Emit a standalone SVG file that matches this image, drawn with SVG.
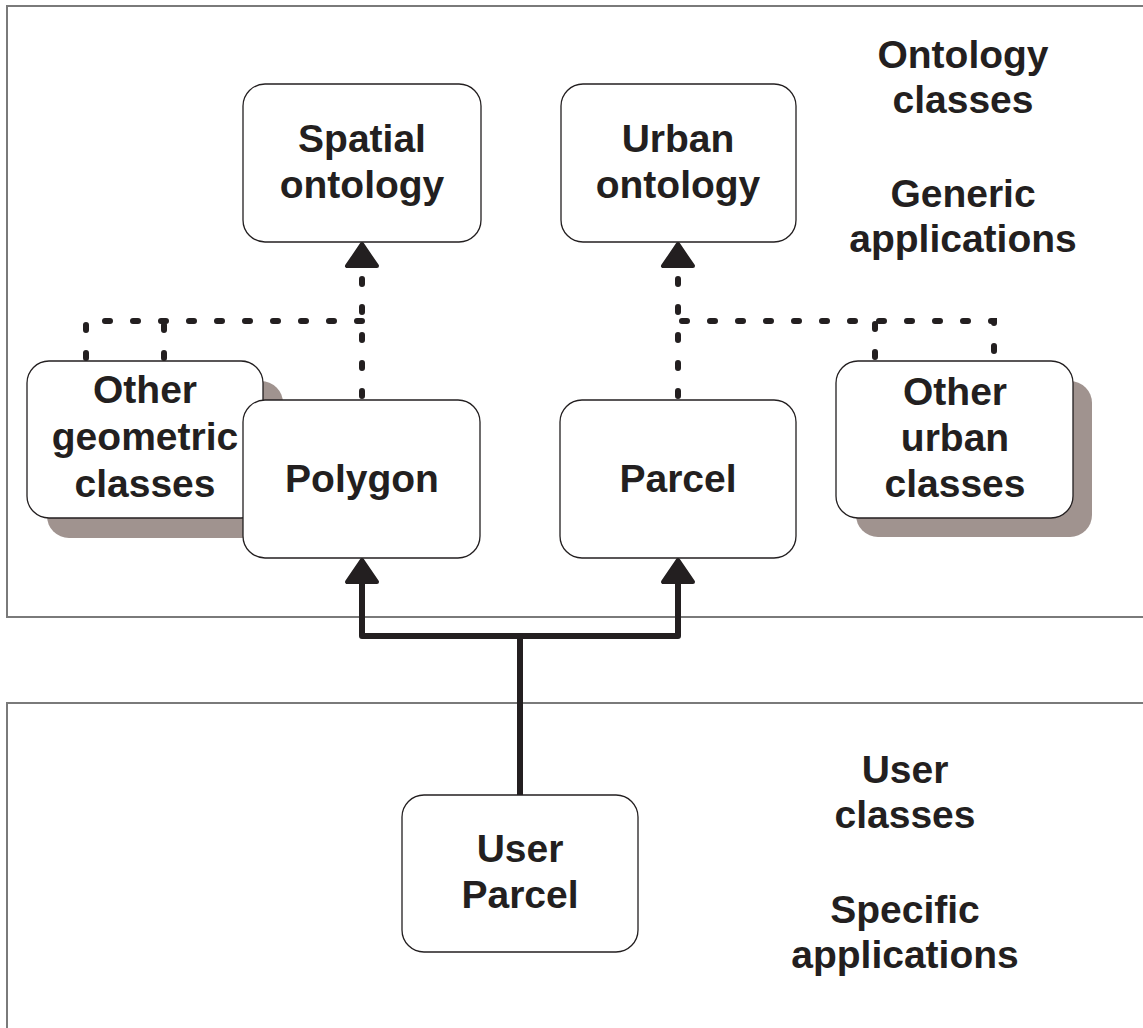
<svg xmlns="http://www.w3.org/2000/svg" width="1143" height="1028" viewBox="0 0 1143 1028">
<style>
.panel{fill:none;stroke:#7a7a7a;stroke-width:2}
.box{fill:#ffffff;stroke:#231f20;stroke-width:1.3}
.shadow{fill:#a0938f}
.t{font-family:"Liberation Sans",Arial,sans-serif;font-weight:bold;font-size:39px;fill:#231f20;text-anchor:middle}
.solid{fill:none;stroke:#231f20;stroke-width:6;stroke-linejoin:round;stroke-linecap:round}
.dash{fill:none;stroke:#231f20;stroke-width:6;stroke-linecap:round;stroke-dasharray:5 23}
.head{fill:#231f20;stroke:#231f20;stroke-width:4;stroke-linejoin:round}
</style>
<rect width="1143" height="1028" fill="#ffffff"/>
<g id="panel-generic">
<path class="panel" d="M1145,6 H7 V617 H1145"/>
<text class="t" x="963" y="68">Ontology</text>
<text class="t" x="963" y="113">classes</text>
<text class="t" x="963" y="207">Generic</text>
<text class="t" x="963" y="252">applications</text>
</g>
<g id="panel-specific">
<path class="panel" d="M1145,703 H7 V1030"/>
<text class="t" x="905" y="783">User</text>
<text class="t" x="905" y="828">classes</text>
<text class="t" x="905" y="923">Specific</text>
<text class="t" x="905" y="968">applications</text>
</g>
<g id="connectors">
<path class="dash" d="M362,396 V272"/>
<path class="dash" d="M86,358 V321 H362"/>
<path class="dash" d="M164,358 V321"/>
<path class="dash" d="M678,396 V272"/>
<path class="dash" d="M875,357 V321 H678"/>
<path class="dash" d="M994,351 V321 H875"/>
<path class="solid" d="M362,584 V636 H678 V584"/>
<path class="solid" d="M520,636 V796"/>
<polygon class="head" points="362,244 347,266 377,266"/>
<polygon class="head" points="678,244 663,266 693,266"/>
<polygon class="head" points="362,560 347,582 377,582"/>
<polygon class="head" points="678,560 663,582 693,582"/>
</g>
<g id="spatial-ontology">
<rect class="box" x="243" y="84" width="238" height="158" rx="22"/>
<text class="t" x="362" y="152">Spatial</text>
<text class="t" x="362" y="198">ontology</text>
</g>
<g id="urban-ontology">
<rect class="box" x="561" y="84" width="235" height="158" rx="22"/>
<text class="t" x="678" y="152">Urban</text>
<text class="t" x="678" y="198">ontology</text>
</g>
<g id="other-geometric-classes">
<rect class="shadow" x="47" y="381" width="236" height="157" rx="22"/>
<rect class="box" x="27" y="361" width="236" height="157" rx="22"/>
<text class="t" x="145" y="403">Other</text>
<text class="t" x="145" y="450">geometric</text>
<text class="t" x="145" y="497">classes</text>
</g>
<g id="polygon">
<rect class="box" x="243" y="400" width="237" height="158" rx="22"/>
<text class="t" x="362" y="492">Polygon</text>
</g>
<g id="parcel">
<rect class="box" x="560" y="400" width="236" height="158" rx="22"/>
<text class="t" x="678" y="492">Parcel</text>
</g>
<g id="other-urban-classes">
<rect class="shadow" x="856" y="381" width="236" height="156" rx="22"/>
<rect class="box" x="836" y="361" width="237" height="157" rx="22"/>
<text class="t" x="955" y="405">Other</text>
<text class="t" x="955" y="451">urban</text>
<text class="t" x="955" y="497">classes</text>
</g>
<g id="user-parcel">
<rect class="box" x="402" y="795" width="236" height="157" rx="22"/>
<text class="t" x="520" y="862">User</text>
<text class="t" x="520" y="908">Parcel</text>
</g>
</svg>
